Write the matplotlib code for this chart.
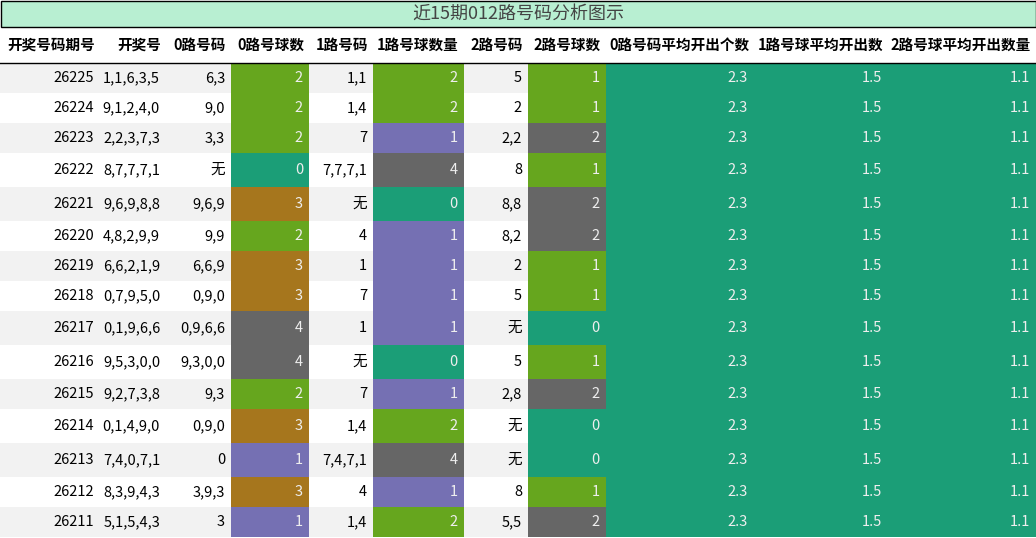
import matplotlib
matplotlib.use("Agg")
import matplotlib.pyplot as plt
import matplotlib.patches as patches

plt.rcParams['font.family'] = ['Noto Sans CJK SC', 'DejaVu Sans']

title = '近15期012路号码分析图示'
headers = ['开奖号码期号', '开奖号', '0路号码', '0路号球数', '1路号码', '1路号球数量',
           '2路号码', '2路号球数', '0路号码平均开出个数', '1路号球平均开出数', '2路号球平均开出数量']
periods = ['26225', '26224', '26223', '26222', '26221', '26220', '26219', '26218',
           '26217', '26216', '26215', '26214', '26213', '26212', '26211']
draws = ['1,1,6,3,5', '9,1,2,4,0', '2,2,3,7,3', '8,7,7,7,1', '9,6,9,8,8', '4,8,2,9,9',
         '6,6,2,1,9', '0,7,9,5,0', '0,1,9,6,6', '9,5,3,0,0', '9,2,7,3,8', '0,1,4,9,0',
         '7,4,0,7,1', '8,3,9,4,3', '5,1,5,4,3']
r0_nums = ['6,3', '9,0', '3,3', '无', '9,6,9', '9,9', '6,6,9', '0,9,0', '0,9,6,6',
           '9,3,0,0', '9,3', '0,9,0', '0', '3,9,3', '3']
r0_cnt = [2, 2, 2, 0, 3, 2, 3, 3, 4, 4, 2, 3, 1, 3, 1]
r1_nums = ['1,1', '1,4', '7', '7,7,7,1', '无', '4', '1', '7', '1', '无', '7', '1,4',
           '7,4,7,1', '4', '1,4']
r1_cnt = [2, 2, 1, 4, 0, 1, 1, 1, 1, 0, 1, 2, 4, 1, 2]
r2_nums = ['5', '2', '2,2', '8', '8,8', '8,2', '2', '5', '无', '5', '2,8', '无', '无',
           '8', '5,5']
r2_cnt = [1, 1, 2, 1, 2, 2, 1, 1, 0, 1, 2, 0, 0, 1, 2]
avg0, avg1, avg2 = '2.3', '1.5', '1.1'

col_x = [0, 100, 166, 231, 309, 373, 464, 528, 606, 754, 888, 1036]
row_h = [34 if '无' in (a, b, c) else 30 for a, b, c in zip(r0_nums, r1_nums, r2_nums)]

green, purple, gray, teal, brown = '#66a61e', '#7570b3', '#666666', '#1b9e77', '#a6761d'
cmap01 = {0: teal, 1: purple, 2: green, 3: brown, 4: gray}
cmap2 = {0: teal, 1: green, 2: gray}

fig = plt.figure(figsize=(10.36, 5.38), dpi=100)
ax = fig.add_axes([0, 0, 1, 1])
ax.set_xlim(0, 1036)
ax.set_ylim(538, 0)
ax.axis('off')

# title bar
ax.add_patch(patches.Rectangle((0.5, 0.5), 1035, 26, facecolor='#b8efd2',
                               edgecolor='black', linewidth=1))
ax.text(518, 14, title, ha='center', va='center', fontsize=13, color='#444444')

# header
for i, h in enumerate(headers):
    ax.text(col_x[i + 1] - 5, 45, h, ha='right', va='center', fontsize=10.5,
            fontweight='bold', color='black')
ax.plot([0, 1036], [62.5, 62.5], color='black', linewidth=1)

y = 63
for r in range(len(periods)):
    h = row_h[r]
    bg = '#f2f2f2' if r % 2 == 0 else 'white'
    cells = [periods[r], draws[r], r0_nums[r], str(r0_cnt[r]), r1_nums[r], str(r1_cnt[r]),
             r2_nums[r], str(r2_cnt[r]), avg0, avg1, avg2]
    colors = [bg, bg, bg, cmap01[r0_cnt[r]], bg, cmap01[r1_cnt[r]], bg, cmap2[r2_cnt[r]],
              teal, teal, teal]
    for c in range(11):
        x0, x1 = col_x[c], col_x[c + 1]
        ax.add_patch(patches.Rectangle((x0, y), x1 - x0, h, facecolor=colors[c],
                                       edgecolor='none'))
        tc = 'black' if colors[c] == bg else '#eeeeee'
        ax.text(x1 - 6, y + h / 2, cells[c], ha='right', va='center', fontsize=10.5,
                color=tc)
    y += h

fig.savefig('out.png', dpi=100)
